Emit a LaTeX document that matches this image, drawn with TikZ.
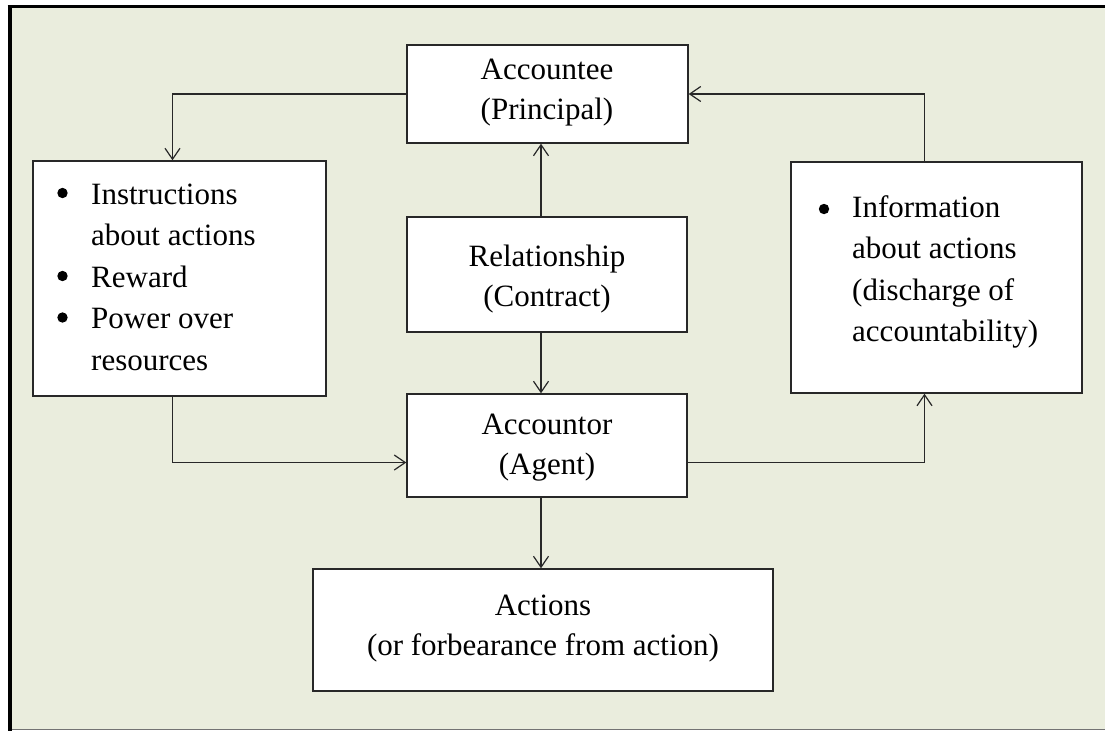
\documentclass[tikz,border=0pt]{standalone}
\usepackage{fontspec}
\setmainfont{Liberation Serif}
\usetikzlibrary{arrows.meta}
\definecolor{paper}{RGB}{234,237,221}
\definecolor{ink}{RGB}{40,40,40}
\begin{document}
\begin{tikzpicture}[x=1pt,y=-1pt,
  box/.style={draw=ink,line width=1.4pt,fill=white,inner sep=0pt},
  txt/.style={font=\fontsize{31}{40}\selectfont,align=center,inner sep=0pt},
  listtxt/.style={font=\fontsize{31}{41.5}\selectfont,align=left,inner sep=0pt,anchor=west},
  dot/.style={fill=black,radius=5.2pt},
  link/.style={draw=ink,line width=1.2pt,-{Straight Barb[length=11pt,width=15pt,line width=1.2pt]}}]
\useasboundingbox (0,0) rectangle (1105,731);
% page frame
\fill[paper] (11,8) rectangle (1105,729);
\draw[black!55,line width=1.2pt] (11,729.5) -- (1105,729.5);
\draw[black,line width=4pt] (9.5,5) -- (9.5,731);
\draw[black,line width=3.5pt] (7.5,6.5) -- (1105,6.5);
% boxes
\node[box,minimum width=281pt,minimum height=98pt] (principal) at (547.5,94) {};
\node[txt] (principaltxt) at (547,93) {Accountee\\(Principal)};
\node[box,minimum width=293pt,minimum height=235pt] (instr) at (179.5,278.5) {};
\node[listtxt] (instrtxt) at (91,277) {Instructions\\about actions\\Reward\\Power over\\resources};
\fill[dot] (62.5,193) circle;
\fill[dot] (62.5,276) circle;
\fill[dot] (62.5,317.5) circle;
\node[box,minimum width=280pt,minimum height=115pt] (contract) at (547,274.5) {};
\node[txt] (contracttxt) at (547,279) {Relationship\\(Contract)};
\node[box,minimum width=291pt,minimum height=231pt] (info) at (936.5,277.5) {};
\node[listtxt] (infotxt) at (852,272) {Information\\about actions\\(discharge of\\accountability)};
\fill[dot] (824,209) circle;
\node[box,minimum width=280pt,minimum height=103pt] (agent) at (547,445.5) {};
\node[txt] (agenttxt) at (547,448) {Accountor\\(Agent)};
\node[box,minimum width=460pt,minimum height=122pt] (actions) at (543,630) {};
\node[txt] (actionstxt) at (543,629) {Actions\\(or forbearance from action)};
% connectors
\coordinate (c1) at (541,0);
\path[link] (contract.north -| c1) -- (principal.south -| c1);
\path[link] (contract.south -| c1) -- (agent.north -| c1);
\path[link] (agent.south -| c1) -- (actions.north -| c1);
\path[link] (principal.west) -| (instr.north -| 172.5,0);
\path[link] (instr.south -| 172.5,0) |- (agent.west |- 0,462.5);
\path[link] (agent.east |- 0,462.5) -| (info.south -| 924.5,0);
\path[link] (info.north -| 924.5,0) |- (principal.east);
\end{tikzpicture}
\end{document}
